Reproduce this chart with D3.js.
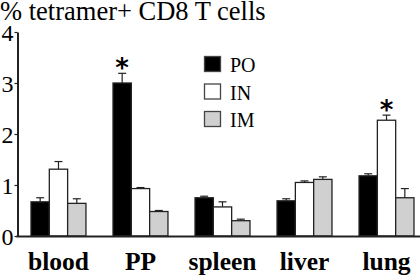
<!DOCTYPE html>
<html>
<head>
<meta charset="utf-8">
<script src="https://cdn.jsdelivr.net/npm/d3@7"></script>
<style>
  body { margin: 0; background: #fff; }
</style>
</head>
<body>
<div id="chart"></div>
<script>
// data
var tissues = ["blood", "PP", "spleen", "liver", "lung"];
var groups = ["PO", "IN", "IM"];
var poValues = [0.67, 3.00, 0.75, 0.69, 1.18];
var inValues = [1.31, 0.93, 0.57, 1.05, 2.27];
var imValues = [0.64, 0.48, 0.30, 1.11, 0.75];
var poErr = [0.08, 0.19, 0.03, 0.04, 0.04];
var inErr = [0.15, 0.02, 0.10, 0.03, 0.10];
var imErr = [0.09, 0.02, 0.03, 0.05, 0.18];
var yTicks = [0, 1, 2, 3, 4];
var starred = [{tissue: "PP", group: "PO"}, {tissue: "lung", group: "IN"}];

var width = 420, height = 276;
var fills = {PO: "#000000", IN: "#ffffff", IM: "#d0d0d0"};
var serif = "'Liberation Serif', 'Times New Roman', Times, 'DejaVu Serif', serif";

var svg = d3.select("#chart")
  .append("svg")
    .attr("width", width)
    .attr("height", height)
    .style("font-family", serif);

var x = d3.scaleBand()
  .domain(tissues)
  .range([14.6, 430.4])
  .paddingInner(0.33)
  .paddingOuter(0.2);

var xSub = d3.scaleBand()
  .domain(groups)
  .range([0, x.bandwidth()]);

var y = d3.scaleLinear()
  .domain([0, 4])
  .range([236, 32]);

var vals = {PO: poValues, IN: inValues, IM: imValues};
var errs = {PO: poErr, IN: inErr, IM: imErr};

var rows = [];
tissues.forEach(function(t, i) {
  groups.forEach(function(g) {
    rows.push({tissue: t, group: g, value: vals[g][i], err: errs[g][i]});
  });
});

// error bars (drawn first so bar outline sits on top)
var eb = svg.append("g").attr("stroke", "#222").attr("stroke-width", 1.2);
rows.forEach(function(d) {
  var cx = x(d.tissue) + xSub(d.group) + xSub.bandwidth() / 2;
  eb.append("line")
    .attr("x1", cx).attr("x2", cx)
    .attr("y1", y(d.value)).attr("y2", y(d.value + d.err));
  eb.append("line")
    .attr("x1", cx - 4).attr("x2", cx + 4)
    .attr("y1", y(d.value + d.err)).attr("y2", y(d.value + d.err));
});

svg.append("g")
  .selectAll("rect")
  .data(rows)
  .enter()
  .append("rect")
    .attr("x", function(d) { return x(d.tissue) + xSub(d.group); })
    .attr("y", function(d) { return y(d.value); })
    .attr("width", xSub.bandwidth())
    .attr("height", function(d) { return y(0) - y(d.value); })
    .attr("fill", function(d) { return fills[d.group]; })
    .attr("stroke", "#222")
    .attr("stroke-width", 1.3);

// asterisks
svg.selectAll(".star")
  .data(starred)
  .enter()
  .append("text")
    .attr("class", "star")
    .attr("x", function(d) { return x(d.tissue) + xSub(d.group) + xSub.bandwidth() / 2; })
    .attr("y", function(d) {
      var i = tissues.indexOf(d.tissue);
      return y(vals[d.group][i] + errs[d.group][i]) + 4;
    })
    .attr("text-anchor", "middle")
    .style("font-family", "'DejaVu Sans', sans-serif")
    .attr("font-size", 26)
    .attr("font-weight", "bold")
    .text("*");

// y axis
var yAxis = svg.append("g")
  .attr("transform", "translate(17.5,0)")
  .call(d3.axisLeft(y).tickValues(yTicks).tickFormat(d3.format("d")).tickSize(3).tickSizeOuter(0));
yAxis.attr("font-family", null);
yAxis.select(".domain").attr("stroke", "#222").attr("stroke-width", 2);
yAxis.selectAll(".tick line").attr("stroke", "#222").attr("stroke-width", 1.2);
yAxis.selectAll(".tick text")
  .attr("x", -4)
  .attr("dy", "0.36em")
  .style("font-family", serif)
  .attr("font-size", 24)
  .attr("fill", "#000");

// x axis baseline
svg.append("line")
  .attr("x1", 16.5).attr("x2", width)
  .attr("y1", y(0) + 0.5).attr("y2", y(0) + 0.5)
  .attr("stroke", "#222")
  .attr("stroke-width", 2);

// category labels, kept inside the right edge
svg.selectAll(".cat")
  .data(tissues)
  .enter()
  .append("text")
    .attr("class", "cat")
    .attr("y", 270)
    .attr("text-anchor", "middle")
    .style("font-family", serif)
    .attr("font-size", 25.5)
    .attr("font-weight", "bold")
    .text(function(d) { return d; })
    .attr("x", function(d) {
      var half = this.getComputedTextLength() / 2;
      return Math.min(x(d) + x.bandwidth() / 2, width - half);
    });

// legend
var legend = svg.append("g");
groups.forEach(function(g, i) {
  legend.append("rect")
    .attr("x", 204.5).attr("y", 56.5 + i * 27.5)
    .attr("width", 16).attr("height", 15)
    .attr("fill", fills[g])
    .attr("stroke", "#444")
    .attr("stroke-width", 1.3);
  legend.append("text")
    .attr("x", 230).attr("y", 72 + i * 27.5)
    .style("font-family", serif)
    .attr("font-size", 20)
    .text(g);
});

// title
svg.append("text")
  .attr("x", 0)
  .attr("y", 20)
  .style("font-family", serif)
  .attr("font-size", 26.5)
  .text("% tetramer+ CD8 T cells");
</script>
</body>
</html>
